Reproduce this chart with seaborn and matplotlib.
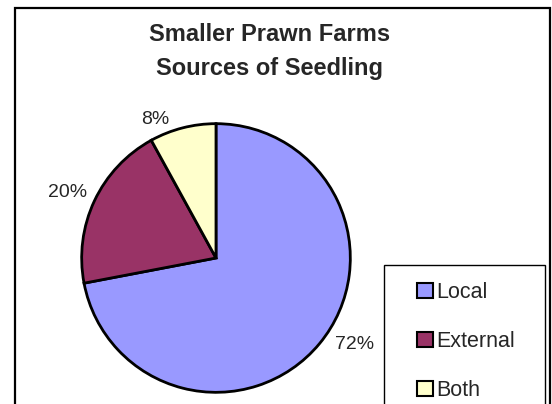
import numpy as np
import matplotlib
matplotlib.use("Agg")
import matplotlib.pyplot as plt
from matplotlib.patches import Rectangle, Patch
import seaborn as sns

sources = ["Local", "External", "Both"]
shares = [72, 20, 8]
slice_colors = ["#9999FF", "#993366", "#FFFFCC"]
title_lines = ["Smaller Prawn Farms", "Sources of Seedling"]

sns.set_theme(style="white")
plt.rcParams["font.family"] = ["Liberation Sans", "DejaVu Sans"]

W, H = 552, 404
fig = plt.figure(figsize=(W / 100, H / 100), dpi=100)
fig.patch.set_facecolor("white")

def fx(px):
    return px / W

def fy(py):
    return 1 - py / H

# outer chart border (runs past the lower edge)
fig.patches.append(Rectangle((fx(15), fy(430)), fx(550) - fx(15), fy(8) - fy(430),
                             transform=fig.transFigure, fill=False,
                             edgecolor="black", linewidth=1.6, zorder=0))

# title
fig.text(fx(270), fy(41), title_lines[0], ha="center", va="baseline",
         fontsize=17, fontweight="bold")
fig.text(fx(270), fy(75), title_lines[1], ha="center", va="baseline",
         fontsize=17, fontweight="bold")

# pie axes: centre (216, 258), radius 135 px
cx, cy, r = 216, 258, 135
ax = fig.add_axes([fx(cx - r), fy(cy + r), 2 * r / W, 2 * r / H])
palette = sns.color_palette(slice_colors)
wedges, _ = ax.pie(shares, colors=palette, startangle=90, counterclock=False,
                   radius=1.0,
                   wedgeprops=dict(edgecolor="black", linewidth=2.0))
ax.set_xlim(-1.005, 1.005)
ax.set_ylim(-1.005, 1.005)
ax.set_aspect("equal")
ax.axis("off")

# percentage labels outside each slice
offsets = [(35, -1), (-27, 8), (-27, 8)]
for w, val, off in zip(wedges, shares, offsets):
    mid = np.deg2rad((w.theta1 + w.theta2) / 2)
    ax.annotate(f"{val}%", xy=(np.cos(mid), np.sin(mid)), xytext=off,
                textcoords="offset pixels", ha="center", va="center",
                fontsize=14, annotation_clip=False)

# legend box
fig.patches.append(Rectangle((fx(384), fy(430)), fx(545) - fx(384), fy(265) - fy(430),
                             transform=fig.transFigure, fill=False,
                             edgecolor="black", linewidth=1.0, zorder=1))
handles = [Patch(facecolor=c, edgecolor="black", linewidth=1.5) for c in slice_colors]
fig.legend(handles, sources, loc="upper left",
           bbox_to_anchor=(fx(402), fy(267)), frameon=False, fontsize=15.5,
           handlelength=0.72, handleheight=0.72, handletextpad=0.15,
           labelspacing=1.3, borderpad=0.2)

fig.savefig("out.png", dpi=100, facecolor="white")
